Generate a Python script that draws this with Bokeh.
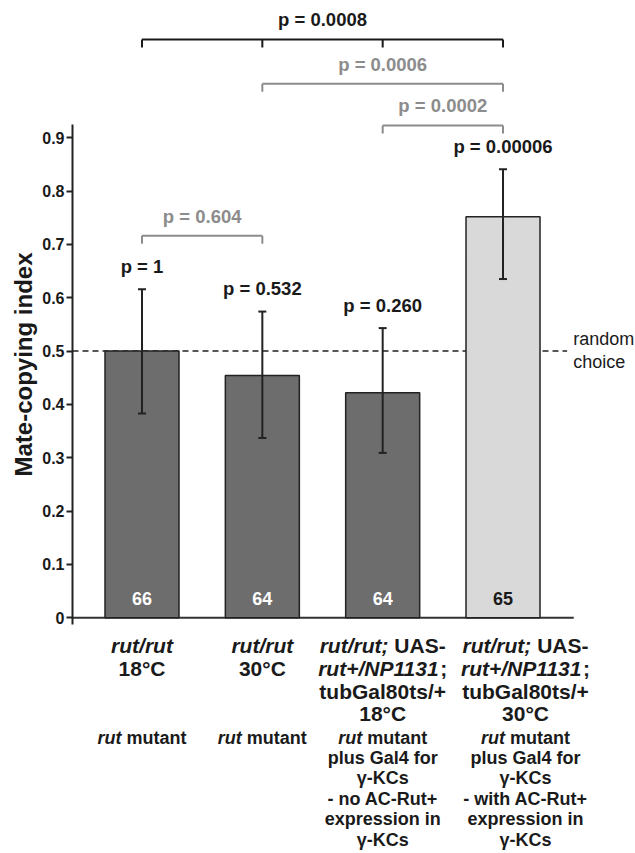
from bokeh.plotting import figure
from bokeh.models import (Range1d, FixedTicker, NumeralTickFormatter, ColumnDataSource, Whisker, TeeHead,
                          Title)
from bokeh.core.properties import value
from bokeh.embed import file_html
from bokeh.resources import INLINE

# ---------------- data ----------------
positions = [1, 2, 3, 4]
means = [0.500, 0.454, 0.422, 0.752]
upper = [0.616, 0.574, 0.543, 0.841]
lower = [0.383, 0.337, 0.309, 0.635]
n_flies = ["66", "64", "64", "65"]
p_vs_random = ["p = 1", "p = 0.532", "p = 0.260", "p = 0.00006"]
bar_colors = ["#6d6d6d", "#6d6d6d", "#6d6d6d", "#d9d9d9"]
n_colors = ["white", "white", "white", "#1a1a1a"]

cmp_left = [1, 1, 2, 3]
cmp_right = [2, 4, 4, 4]
cmp_ticks = [[1, 2], [1, 2, 3, 4], [2, 4], [3, 4]]
cmp_level = [0.716, 1.084, 1.001, 0.923]
cmp_p = ["p = 0.604", "p = 0.0008", "p = 0.0006", "p = 0.0002"]
cmp_color = ["#8c8c8c", "#1a1a1a", "#8c8c8c", "#8c8c8c"]

y_ticks = [0, 0.1, 0.2, 0.3, 0.4, 0.5, 0.6, 0.7, 0.8, 0.9]
chance_level = 0.5
chance_text = ["random", "choice"]
y_label = "Mate-copying index"

# (text, italic) segments per line
genotype_lines = [
    [[("rut/rut", True)], [("18°C", False)]],
    [[("rut/rut", True)], [("30°C", False)]],
    [[("rut/rut;", True), (" UAS-", False)], [("rut+/NP1131", True), (";", False)],
     [("tubGal80ts/+", False)], [("18°C", False)]],
    [[("rut/rut;", True), (" UAS-", False)], [("rut+/NP1131", True), (";", False)],
     [("tubGal80ts/+", False)], [("30°C", False)]],
]
description_lines = [
    [[("rut", True), (" mutant", False)]],
    [[("rut", True), (" mutant", False)]],
    [[("rut", True), (" mutant", False)], [("plus Gal4 for", False)], [("γ-KCs", False)],
     [("- no AC-Rut+", False)], [("expression in", False)], [("γ-KCs", False)]],
    [[("rut", True), (" mutant", False)], [("plus Gal4 for", False)], [("γ-KCs", False)],
     [("- with AC-Rut+", False)], [("expression in", False)], [("γ-KCs", False)]],
]

# ---------------- layout ----------------
W, H, LEFT = 635, 853, 72
XMIN, XMAX = 0.4224, 5.101
YMIN, YMAX = -0.4422, 1.1573
FONT = "Liberation Sans"
DARK = "#1a1a1a"
label_centers = [1, 2, 3, 4.187]


def px_to_v(py):
    return YMAX - py * (YMAX - YMIN) / H


BOLD_W = {' ': 278, '!': 333, '+': 584, ',': 278, '-': 333, '.': 278, '/': 278, ':': 333, ';': 333,
          '=': 584, '°': 400, 'γ': 556}
for c in "0123456789":
    BOLD_W[c] = 556
BOLD_W.update(dict(zip("ABCDEFGHIJKLMNOPQRSTUVWXYZ",
                       [722, 722, 722, 722, 667, 611, 778, 722, 278, 556, 722, 611, 833, 722, 778, 667, 778,
                        722, 667, 611, 722, 667, 944, 667, 667, 611])))
BOLD_W.update(dict(zip("abcdefghijklmnopqrstuvwxyz",
                       [556, 611, 556, 611, 556, 333, 611, 611, 278, 278, 556, 278, 889, 611, 611, 611, 611,
                        389, 556, 333, 611, 556, 778, 556, 556, 500])))


def text_w(s, size):
    return sum(BOLD_W.get(c, 556) for c in s) * size / 1000.0


def build_segments(groups, size, y0_px, step_px):
    out = {True: dict(x=[], y=[], text=[], x_offset=[]), False: dict(x=[], y=[], text=[], x_offset=[])}
    for i, lines in enumerate(groups):
        for j, segs in enumerate(lines):
            total = sum(text_w(t, size) for t, _ in segs)
            off = -total / 2.0
            for t, it in segs:
                w = text_w(t, size)
                s = t
                lead = 0.0
                while s.startswith(" "):
                    lead += text_w(" ", size)
                    s = s[1:]
                d = out[it]
                d["x"].append(label_centers[i])
                d["y"].append(px_to_v(y0_px + j * step_px))
                d["text"].append(s)
                d["x_offset"].append(off + lead)
                off += w
    return out


p = figure(width=W, height=H, x_range=Range1d(XMIN, XMAX), y_range=Range1d(YMIN, YMAX),
           x_axis_location=None, toolbar_location=None, output_backend="svg")
p.min_border = 0
p.min_border_left = LEFT
p.grid.visible = False
p.outline_line_color = None
p.background_fill_color = "white"

ax = p.yaxis[0]
ax.ticker = FixedTicker(ticks=y_ticks)
ax.formatter = NumeralTickFormatter(format="0.[0]")
ax.bounds = (-0.012, 0.925)
ax.axis_line_width = 2
ax.axis_line_color = "#222222"
ax.major_tick_line_width = 2
ax.major_tick_line_color = "#222222"
ax.major_tick_in = 0
ax.major_tick_out = 6
ax.minor_tick_line_color = None
ax.major_label_standoff = 2
ax.major_label_text_font = FONT
ax.major_label_text_font_style = "bold"
ax.major_label_text_font_size = "16px"
ax.major_label_text_color = DARK

# y-axis title in the left panel, ending level with the top of the axis title in the reference
p.add_layout(Title(text=y_label, align="right", offset=252, standoff=6,
                   text_font=FONT, text_font_style="bold", text_font_size="24px",
                   text_color=DARK), "left")

# chance line (under bars)
p.segment(x0=[XMIN], y0=[chance_level], x1=[4.533], y1=[chance_level],
          line_color="#222222", line_width=1.5, line_dash="6 4")
p.text(x=[4.583, 4.583], y=[px_to_v(338), px_to_v(361)], text=chance_text,
       text_font=value(FONT), text_font_size="18px", text_color=DARK,
       text_align="left", text_baseline="middle")

# baseline
p.segment(x0=[XMIN], y0=[0], x1=[4.588], y1=[0], line_color="#333333", line_width=2)

src = ColumnDataSource(dict(x=positions, top=means, upper=upper, lower=lower, color=bar_colors,
                            n=n_flies, ncol=n_colors, plab=p_vs_random,
                            py=[u + 0.043 for u in upper]))
p.vbar(x="x", top="top", bottom=0, width=0.615, fill_color="color", line_color="#222222",
       line_width=1.5, source=src)

wh = Whisker(base="x", upper="upper", lower="lower", source=src, line_width=2, line_color="#222222",
             level="annotation",
             upper_head=TeeHead(size=8, line_width=2, line_color="#222222"),
             lower_head=TeeHead(size=8, line_width=2, line_color="#222222"))
p.add_layout(wh)

p.text(x="x", y=0.036, text="n", text_color="ncol", source=src, text_font=value(FONT),
       text_font_size="18px", text_font_style="bold", text_align="center", text_baseline="middle")
p.text(x="x", y="py", text="plab", source=src, text_font=value(FONT), text_color=DARK,
       text_font_size="18.5px", text_font_style="bold", text_align="center", text_baseline="middle")

# comparison brackets
hx0, hx1, hy, tx, ty0, ty1, tcol, hcol = [], [], [], [], [], [], [], []
lx, ly = [], []
for l, r, ticks, lev, col in zip(cmp_left, cmp_right, cmp_ticks, cmp_level, cmp_color):
    hx0.append(l); hx1.append(r); hy.append(lev); hcol.append(col)
    for t in ticks:
        tx.append(t); ty0.append(lev); ty1.append(lev - 0.015); tcol.append(col)
    lx.append((l + r) / 2.0); ly.append(lev + 0.037)
p.segment(x0=hx0, y0=hy, x1=hx1, y1=hy, line_color=hcol, line_width=2)
p.segment(x0=tx, y0=ty0, x1=tx, y1=ty1, line_color=tcol, line_width=2)
p.text(x=lx, y=ly, text=cmp_p, text_color=cmp_color, text_font=value(FONT), text_font_size="18.5px",
       text_font_style="bold", text_align="center", text_baseline="middle")

# category labels
for groups, size, y0, step in [(genotype_lines, 21, 645, 22.8), (description_lines, 18, 737, 20.4)]:
    segs = build_segments(groups, size, y0, step)
    for italic, d in segs.items():
        if not d["x"]:
            continue
        p.text(x="x", y="y", text="text", x_offset="x_offset", source=ColumnDataSource(d),
               text_font=value(FONT), text_font_size=f"{size}px",
               text_font_style="bold italic" if italic else "bold", text_color=DARK,
               text_align="left", text_baseline="middle")

open("out.html", "w").write(file_html(p, INLINE))
